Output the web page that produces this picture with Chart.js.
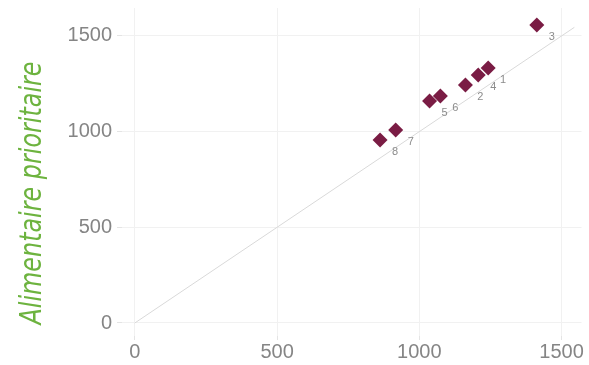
<!DOCTYPE html>
<html>
<head>
<meta charset="utf-8">
<script src="https://cdn.jsdelivr.net/npm/chart.js@4"></script>
<style>
html,body{margin:0;padding:0;background:#fff;}
#wrap{width:589px;height:365px;position:relative;}
</style>
</head>
<body>
<div id="wrap"><canvas id="c" width="589" height="365"></canvas></div>
<script>
const pointLabels = ['1','2','3','4','5','6','7','8'];
const xValues = [1242, 1162, 1413, 1207, 1036, 1074, 917, 862];
const yValues = [1333, 1244, 1557, 1296, 1160, 1186, 1009, 956];
const diagonalEnds = [0, 1545];
const tickValues = [0, 500, 1000, 1500];
const yTitle = 'Alimentaire prioritaire';

const points = xValues.map((x, i) => ({x: x, y: yValues[i]}));
const diag = diagonalEnds.map(v => ({x: v, y: v}));

const labelPlugin = {
  id: 'labels',
  afterDatasetsDraw(chart) {
    const ctx = chart.ctx;
    const xs = chart.scales.x, ys = chart.scales.y;
    ctx.save();
    ctx.fillStyle = '#8c8c8c';
    ctx.font = '11px "Liberation Sans", Arial, sans-serif';
    ctx.textAlign = 'center';
    ctx.textBaseline = 'middle';
    points.forEach((p, i) => {
      ctx.fillText(pointLabels[i], xs.getPixelForValue(p.x) + 15, ys.getPixelForValue(p.y) + 12);
    });
    ctx.restore();
  }
};

const titlePlugin = {
  id: 'ytitle',
  afterDraw(chart) {
    const ctx = chart.ctx;
    ctx.save();
    ctx.fillStyle = '#6db33f';
    ctx.font = 'italic 30px "Liberation Sans Narrow", "DejaVu Sans Condensed", sans-serif';
    ctx.textAlign = 'center';
    ctx.textBaseline = 'middle';
    const w = ctx.measureText(yTitle).width;
    const target = 263;
    ctx.translate(33, 193);
    ctx.rotate(-Math.PI / 2);
    ctx.scale(target / w, 1);
    ctx.fillText(yTitle, 0, 0);
    ctx.restore();
  }
};

const fixTicks = (scale) => { scale.ticks = tickValues.map(v => ({value: v})); };
const plain = (v) => String(v);

new Chart(document.getElementById('c'), {
  type: 'scatter',
  data: {
    datasets: [
      {
        type: 'line',
        data: diag,
        borderColor: '#d9d9d9',
        borderWidth: 1,
        pointRadius: 0,
        fill: false,
        order: 2
      },
      {
        data: points,
        pointStyle: 'rectRot',
        pointRadius: 7.5,
        pointHoverRadius: 7.5,
        backgroundColor: '#7a1c44',
        borderColor: '#7a1c44',
        borderWidth: 0,
        order: 1
      }
    ]
  },
  options: {
    responsive: false,
    animation: false,
    events: [],
    layout: {padding: {top: 8, right: 4, left: 0, bottom: 0}},
    plugins: {legend: {display: false}, tooltip: {enabled: false}},
    scales: {
      x: {
        type: 'linear',
        min: -45,
        max: 1570,
        afterBuildTicks: fixTicks,
        afterFit: (s) => { s.height = 29; s.paddingLeft = 0; s.paddingRight = 0; },
        border: {display: false},
        grid: {color: '#f1f1f1', tickLength: 4, tickColor: '#e4e4e4'},
        ticks: {callback: plain, color: '#858585', padding: 0, font: {size: 20, family: '"Liberation Sans", Arial, sans-serif'}, maxRotation: 0}
      },
      y: {
        type: 'linear',
        min: -68,
        max: 1646,
        afterBuildTicks: fixTicks,
        afterFit: (s) => { s.width = 122; s.paddingTop = 0; s.paddingBottom = 0; },
        border: {display: false},
        grid: {color: '#f1f1f1', tickLength: 5, tickColor: '#e4e4e4'},
        ticks: {callback: plain, color: '#858585', padding: 5, font: {size: 20, family: '"Liberation Sans", Arial, sans-serif'}}
      }
    }
  },
  plugins: [labelPlugin, titlePlugin]
});
</script>
</body>
</html>
